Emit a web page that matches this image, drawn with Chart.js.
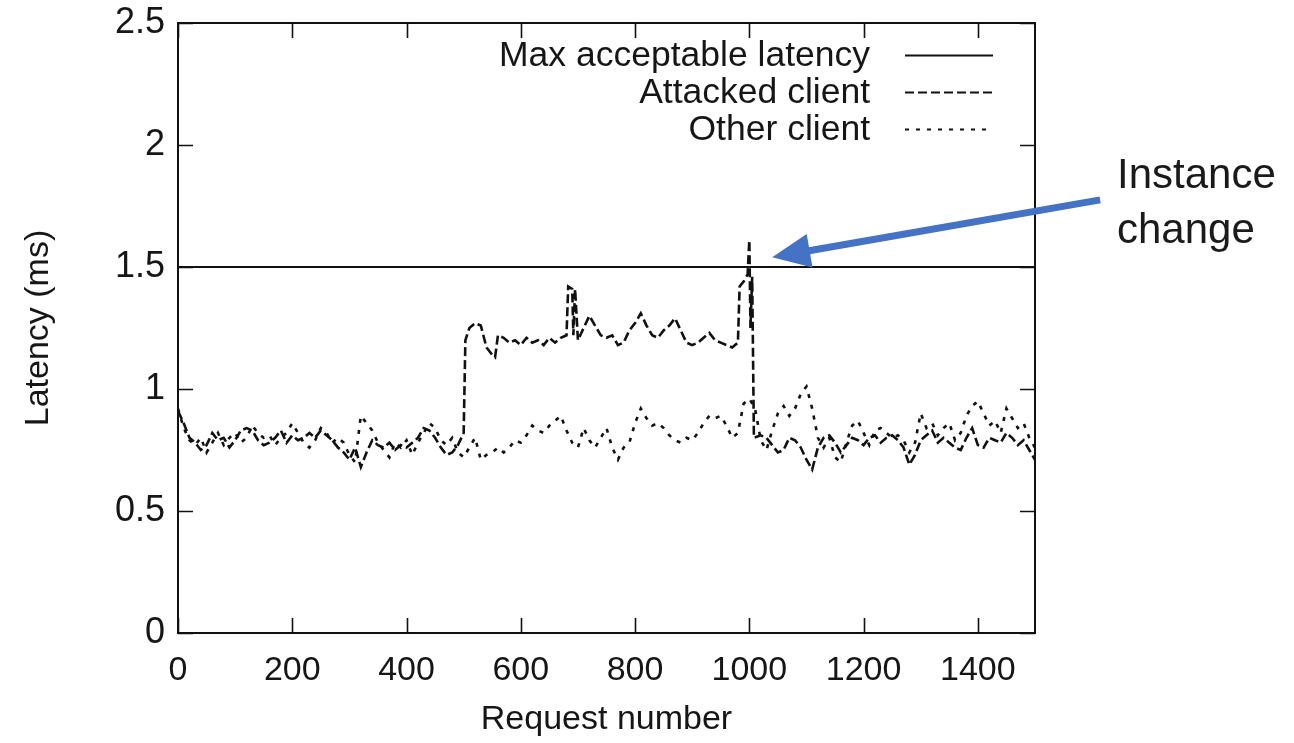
<!DOCTYPE html>
<html><head><meta charset="utf-8">
<script src="https://cdn.jsdelivr.net/npm/chart.js@4.4.1/dist/chart.umd.min.js"></script>
<style>html,body{margin:0;padding:0;background:#fff;}#wrap{width:1294px;height:743px;}</style>
</head><body><div id="wrap"><canvas id="c" width="1294" height="743"></canvas></div>
<script>
// ---- data ----
const requestsAttacked = [
  0,10,20,30,40,50,60,70,80,90,
  100,110,120,130,140,150,160,170,180,190,
  200,210,220,230,240,250,260,270,280,290,
  300,310,320,330,340,350,360,370,380,390,
  400,410,420,430,440,450,460,470,480,490,
  500,503,510,520,530,540,550,555,560,570,
  580,590,600,610,620,630,640,650,660,670,
  680,683,690,692,695,700,710,720,730,740,
  750,760,770,780,790,800,810,820,830,840,
  850,860,870,880,890,900,910,920,930,940,
  950,960,970,980,983,990,997,1000,1002,1005,
  1008,1020,1030,1040,1050,1060,1070,1080,1090,1100,
  1110,1120,1130,1140,1150,1160,1170,1180,1190,1200,
  1210,1220,1230,1240,1250,1260,1270,1280,1290,1300,
  1310,1320,1330,1340,1350,1360,1370,1380,1390,1400,
  1410,1420,1430,1440,1450,1460,1470,1480,1490,1500
];
const latencyAttacked = [
  0.91,0.86,0.80,0.78,0.75,0.77,0.82,0.79,0.80,0.76,
  0.79,0.83,0.84,0.83,0.79,0.77,0.78,0.80,0.83,0.78,
  0.81,0.79,0.80,0.82,0.80,0.83,0.81,0.79,0.76,0.74,
  0.71,0.76,0.68,0.74,0.79,0.77,0.76,0.78,0.75,0.77,
  0.76,0.78,0.80,0.84,0.83,0.80,0.76,0.73,0.74,0.77,
  0.82,1.20,1.25,1.27,1.26,1.17,1.14,1.13,1.22,1.21,
  1.19,1.20,1.18,1.21,1.19,1.20,1.18,1.21,1.19,1.21,
  1.22,1.42,1.41,1.22,1.41,1.20,1.25,1.30,1.26,1.22,
  1.21,1.22,1.18,1.19,1.24,1.27,1.31,1.26,1.22,1.21,
  1.24,1.26,1.29,1.24,1.19,1.18,1.19,1.21,1.23,1.20,
  1.19,1.18,1.17,1.19,1.42,1.44,1.47,1.61,1.25,1.46,
  0.80,0.81,0.80,0.77,0.74,0.75,0.80,0.79,0.76,0.71,
  0.67,0.76,0.80,0.81,0.78,0.74,0.77,0.80,0.79,0.77,
  0.80,0.81,0.78,0.80,0.81,0.79,0.76,0.69,0.73,0.79,
  0.81,0.83,0.78,0.80,0.78,0.76,0.75,0.80,0.84,0.77,
  0.76,0.80,0.79,0.78,0.82,0.80,0.77,0.79,0.75,0.71
];
const requestsOther = [
  0,10,20,30,40,50,60,70,80,90,
  100,110,120,130,140,150,160,170,180,190,
  200,210,220,230,240,250,260,270,280,290,
  300,310,320,330,340,350,360,370,380,390,
  400,410,420,430,440,450,460,470,480,490,
  500,510,520,530,540,550,560,570,580,590,
  600,610,620,630,640,650,660,670,680,690,
  700,710,720,730,740,750,760,770,780,790,
  800,810,820,830,840,850,860,870,880,890,
  900,910,920,930,940,950,960,970,980,990,
  1000,1010,1020,1030,1040,1050,1060,1070,1080,1090,
  1100,1110,1120,1130,1140,1150,1160,1170,1180,1190,
  1200,1210,1220,1230,1240,1250,1260,1270,1280,1290,
  1300,1310,1320,1330,1340,1350,1360,1370,1380,1390,
  1400,1410,1420,1430,1440,1450,1460,1470,1480,1490,
  1500
];
const latencyOther = [
  0.92,0.84,0.79,0.77,0.80,0.74,0.78,0.82,0.77,0.80,
  0.82,0.78,0.80,0.85,0.82,0.80,0.81,0.77,0.80,0.82,
  0.86,0.82,0.78,0.76,0.79,0.84,0.82,0.78,0.80,0.78,
  0.73,0.70,0.89,0.86,0.83,0.78,0.75,0.72,0.78,0.76,
  0.79,0.73,0.78,0.82,0.86,0.84,0.79,0.77,0.80,0.74,
  0.72,0.76,0.80,0.71,0.73,0.74,0.76,0.74,0.76,0.79,
  0.78,0.81,0.85,0.83,0.82,0.85,0.87,0.89,0.83,0.78,
  0.76,0.84,0.79,0.76,0.80,0.84,0.76,0.71,0.76,0.78,
  0.86,0.92,0.88,0.85,0.86,0.84,0.81,0.79,0.78,0.80,
  0.79,0.82,0.86,0.89,0.88,0.89,0.85,0.80,0.82,0.94,
  0.96,0.92,0.79,0.75,0.83,0.90,0.93,0.89,0.92,0.98,
  1.01,0.92,0.80,0.76,0.80,0.72,0.70,0.78,0.85,0.87,
  0.82,0.77,0.83,0.84,0.82,0.80,0.81,0.79,0.74,0.78,
  0.90,0.84,0.86,0.81,0.84,0.86,0.79,0.82,0.89,0.93,
  0.95,0.90,0.85,0.87,0.82,0.92,0.88,0.84,0.86,0.80,
  0.76
];
const requestsMax = [0, 1500];
const latencyMax = [1.5, 1.5];
const seriesLabels = ['Max acceptable latency', 'Attacked client', 'Other client'];
const xTickValues = [0, 200, 400, 600, 800, 1000, 1200, 1400];
const xTickLabels = ['0', '200', '400', '600', '800', '1000', '1200', '1400'];
const yTickValues = [0, 0.5, 1, 1.5, 2, 2.5];
const yTickLabels = ['0', '0.5', '1', '1.5', '2', '2.5'];
const annotationLines = ['Instance', 'change'];
// arrow expressed in data coordinates (tip at the instance change, on the 1.5 line)
const arrowTip = { x: 1040, y: 1.54 };
const arrowTail = { x: 1614, y: 1.775 };

// ---- chart ----
const FONT = '"Liberation Sans", Arial, Helvetica, sans-serif';
const TXT = '#161616';
const pts = (xs, ys) => xs.map((x, i) => ({ x: x, y: ys[i] }));

const styleSamples = [
  { dash: [] },
  { dash: [9, 4] },
  { dash: [4, 7] }
];

const decorPlugin = {
  id: 'decor',
  afterDraw(chart) {
    const { ctx, chartArea: a, scales: { x, y } } = chart;
    ctx.save();
    // frame
    ctx.strokeStyle = '#111';
    ctx.lineWidth = 2;
    ctx.setLineDash([]);
    ctx.strokeRect(a.left, a.top, a.right - a.left, a.bottom - a.top);
    // inward tick marks on all four sides
    const tl = 15;
    ctx.lineWidth = 1.6;
    ctx.beginPath();
    x.ticks.forEach(t => {
      const px = Math.round(x.getPixelForValue(t.value)) + 0.5;
      ctx.moveTo(px, a.bottom); ctx.lineTo(px, a.bottom - tl);
      ctx.moveTo(px, a.top); ctx.lineTo(px, a.top + tl);
    });
    y.ticks.forEach(t => {
      const py = Math.round(y.getPixelForValue(t.value)) + 0.5;
      ctx.moveTo(a.left, py); ctx.lineTo(a.left + tl, py);
      ctx.moveTo(a.right, py); ctx.lineTo(a.right - tl, py);
    });
    ctx.stroke();

    // legend (gnuplot style: text right-aligned, sample on the right)
    ctx.font = '35.5px ' + FONT;
    ctx.fillStyle = TXT;
    ctx.textAlign = 'right';
    ctx.textBaseline = 'middle';
    chart.data.datasets.forEach((ds, i) => {
      const ry = a.top + 32 + i * 37;
      ctx.fillText(ds.label, a.right - 165, ry + 1);
      ctx.strokeStyle = '#111';
      ctx.lineWidth = 2;
      ctx.setLineDash(ds.borderDash || []);
      ctx.beginPath();
      ctx.moveTo(a.right - 130, ry + 0.5);
      ctx.lineTo(a.right - 42, ry + 0.5);
      ctx.stroke();
    });
    ctx.setLineDash([]);

    // annotation arrow
    const tx = x.getPixelForValue(arrowTip.x), ty = y.getPixelForValue(arrowTip.y);
    const sx = x.getPixelForValue(arrowTail.x), sy = y.getPixelForValue(arrowTail.y);
    const ang = Math.atan2(ty - sy, tx - sx);
    const headLen = 38, headHalf = 17;
    const bx = tx - headLen * Math.cos(ang), by = ty - headLen * Math.sin(ang);
    ctx.strokeStyle = '#4472C4';
    ctx.fillStyle = '#4472C4';
    ctx.lineWidth = 7;
    ctx.lineCap = 'butt';
    ctx.beginPath();
    ctx.moveTo(sx, sy); ctx.lineTo(bx + 2 * Math.cos(ang), by + 2 * Math.sin(ang));
    ctx.stroke();
    ctx.beginPath();
    ctx.moveTo(tx, ty);
    ctx.lineTo(bx + headHalf * Math.sin(ang), by - headHalf * Math.cos(ang));
    ctx.lineTo(bx - headHalf * Math.sin(ang), by + headHalf * Math.cos(ang));
    ctx.closePath();
    ctx.fill();

    // annotation text
    ctx.fillStyle = '#1a1a1a';
    ctx.font = '42px ' + FONT;
    ctx.textAlign = 'left';
    ctx.textBaseline = 'alphabetic';
    annotationLines.forEach((s, i) => {
      ctx.fillText(s, a.right + 82, 188 + i * 55);
    });
    ctx.restore();
  }
};

new Chart(document.getElementById('c'), {
  type: 'line',
  data: {
    datasets: [
      { label: seriesLabels[0], data: pts(requestsMax, latencyMax), borderColor: '#111', borderWidth: 2, borderDash: styleSamples[0].dash, pointRadius: 0, tension: 0, fill: false },
      { label: seriesLabels[1], data: pts(requestsAttacked, latencyAttacked), borderColor: '#111', borderWidth: 2.6, borderDash: styleSamples[1].dash, pointRadius: 0, tension: 0, fill: false },
      { label: seriesLabels[2], data: pts(requestsOther, latencyOther), borderColor: '#111', borderWidth: 2.6, borderDash: styleSamples[2].dash, pointRadius: 0, tension: 0, fill: false }
    ]
  },
  options: {
    responsive: false,
    animation: false,
    events: [],
    layout: { padding: { left: 0, top: 23, right: 259, bottom: 0 } },
    plugins: { legend: { display: false }, tooltip: { enabled: false } },
    scales: {
      x: {
        type: 'linear', min: 0, max: 1500,
        afterFit: s => { s.height = 110; s.paddingLeft = 0; s.paddingRight = 0; },
        afterBuildTicks: s => { s.ticks = xTickValues.map(v => ({ value: v })); },
        grid: { display: false, drawTicks: false },
        border: { display: false },
        ticks: {
          autoSkip: false, maxRotation: 0, padding: 17, color: TXT,
          font: { family: FONT, size: 34 },
          callback: v => xTickLabels[xTickValues.indexOf(v)]
        },
        title: { display: true, text: 'Request number', color: TXT, font: { family: FONT, size: 34 }, padding: { top: 0, bottom: 3 } }
      },
      y: {
        type: 'linear', min: 0, max: 2.5,
        afterFit: s => { s.width = 178; s.paddingTop = 0; s.paddingBottom = 0; },
        afterBuildTicks: s => { s.ticks = yTickValues.map(v => ({ value: v })); },
        grid: { display: false, drawTicks: false },
        border: { display: false },
        ticks: {
          padding: 13, color: TXT,
          font: { family: FONT, size: 36 },
          callback: v => yTickLabels[yTickValues.indexOf(v)]
        },
        title: { display: true, text: 'Latency (ms)', color: TXT, font: { family: FONT, size: 34 }, padding: { top: 18, bottom: 0 } }
      }
    }
  },
  plugins: [decorPlugin]
});
</script>
</body></html>
